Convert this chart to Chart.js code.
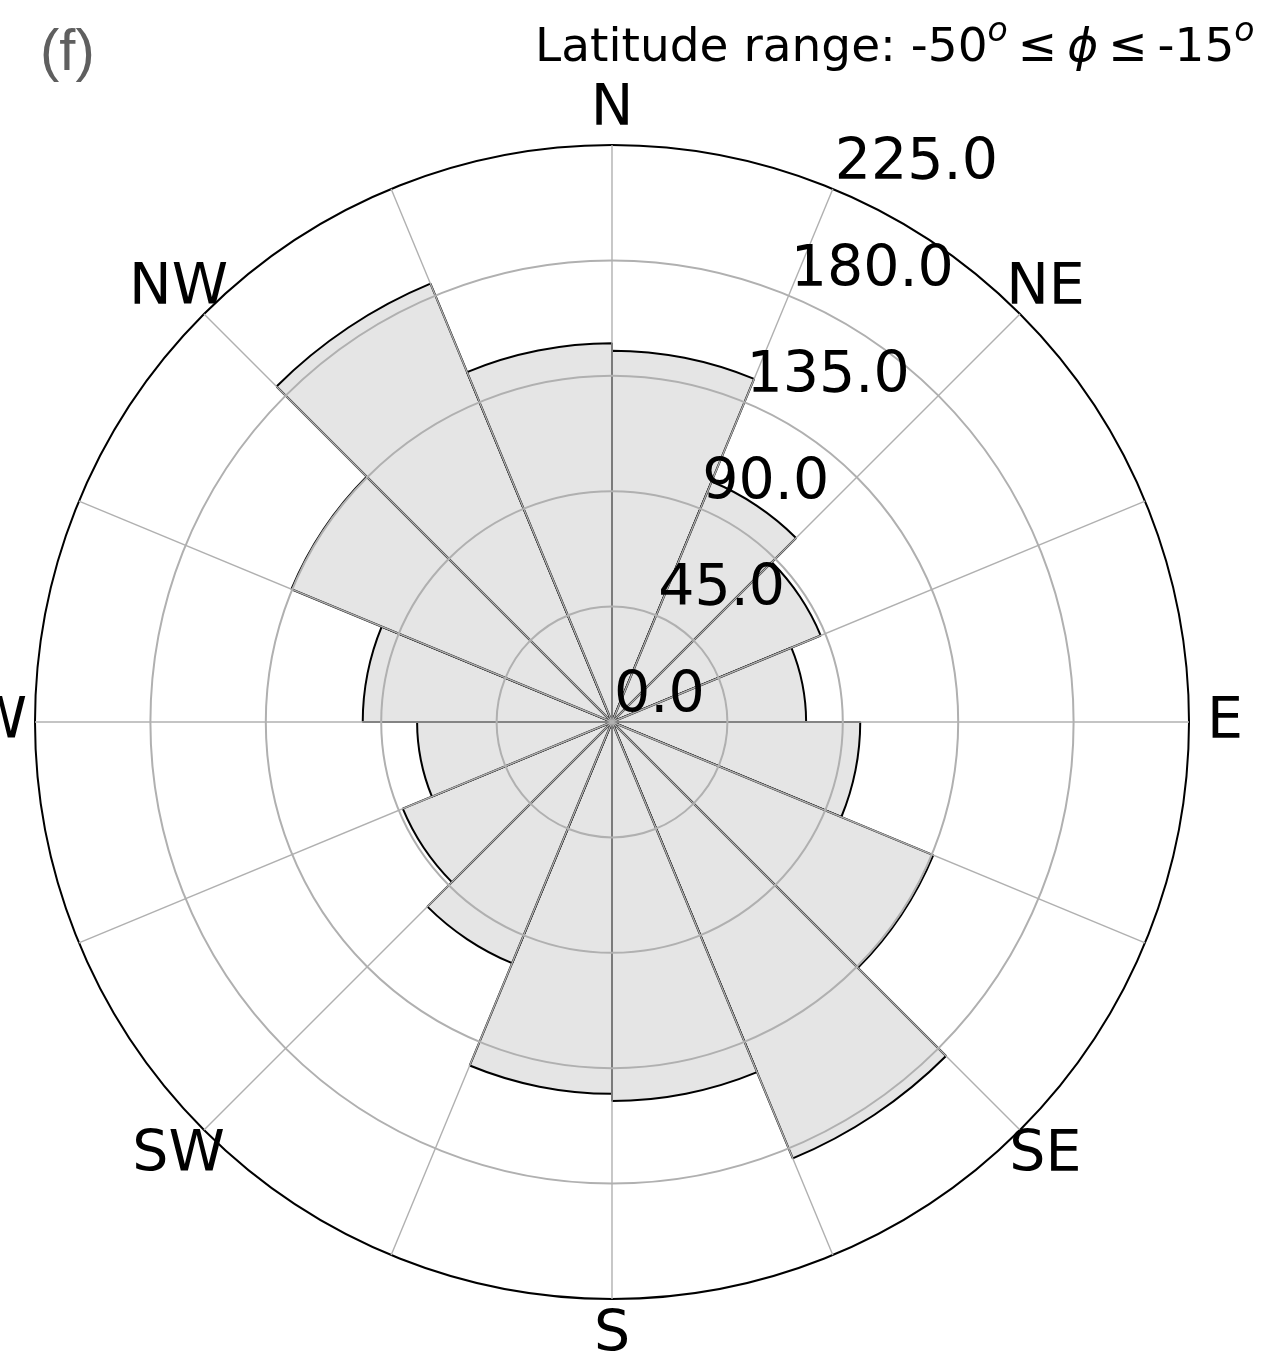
<!DOCTYPE html>
<html>
<head>
<meta charset="utf-8">
<script src="https://cdn.jsdelivr.net/npm/chart.js@4.4.1/dist/chart.umd.min.js"></script>
<style>
  html, body { margin: 0; padding: 0; background: #fff; }
  canvas { display: block; }
</style>
</head>
<body>
<canvas id="myChart" width="1273" height="1369" style="width:1273px;height:1369px"></canvas>
<script>
// sectors, clockwise from north, 22.5 deg each
const sectorLabels = ["N", "NNE", "NE", "ENE", "E", "ESE", "SE", "SSE",
                      "S", "SSW", "SW", "WSW", "W", "WNW", "NW", "NNW"];
const counts = [144.8, 101.5, 88.1, 75.7, 96.8, 135.6, 184.2, 147.8,
                145.0, 101.8, 88.3, 76.0, 97.2, 135.3, 185.0, 147.7];
const compassLabels = ["N", "NE", "E", "SE", "S", "SW", "W", "NW"];
const radialTicks = [0, 45, 90, 135, 180, 225];

// draws compass names, radial tick labels, title and panel letter
const roseText = {
  id: "roseText",
  afterDraw(chart) {
    const ctx = chart.ctx;
    const r = chart.scales.r;
    ctx.save();
    ctx.fillStyle = "#000";

    ctx.font = '57px "DejaVu Sans"';
    ctx.textAlign = "center";
    ctx.textBaseline = "middle";
    compassLabels.forEach((lab, j) => {
      const p = r.getPointPosition(j * 2, r.drawingArea + 36);
      ctx.fillText(lab, p.x, p.y + 1);
    });

    ctx.textAlign = "left";
    ctx.textBaseline = "alphabetic";
    radialTicks.forEach((v) => {
      const p = r.getPointPositionForValue(1, v);
      ctx.fillText(v.toFixed(1), p.x + 2, p.y - 10);
    });

    // title: Latitude range: -50^o <= phi <= -15^o
    const base = '47px "DejaVu Sans"';
    const sup = 'italic 33px "DejaVu Sans"';
    const runs = [
      { t: "Latitude range: -50", f: base, dy: 0 },
      { t: "o", f: sup, dy: -20 },
      { gap: 10 },
      { t: "\u2264", f: base, dy: 0 },
      { gap: 10 },
      { t: "\u03d5", f: 'italic 47px "DejaVu Sans"', dy: 0 },
      { gap: 10 },
      { t: "\u2264", f: base, dy: 0 },
      { gap: 10 },
      { t: "-15", f: base, dy: 0 },
      { t: "o", f: sup, dy: -20 }
    ];
    let x = 535;
    const y = 61;
    runs.forEach((run) => {
      if (run.gap) { x += run.gap; return; }
      ctx.font = run.f;
      ctx.fillText(run.t, x, y + run.dy);
      x += ctx.measureText(run.t).width;
    });

    ctx.fillStyle = "#5f5f5f";
    ctx.font = '58px "Liberation Sans"';
    ctx.fillText("(f)", 40, 70);
    ctx.restore();
  }
};

const ctx = document.getElementById("myChart").getContext("2d");
const myChart = new Chart(ctx, {
  type: "polarArea",
  data: {
    labels: sectorLabels,
    datasets: [
      {
        label: "Count",
        data: counts,
        backgroundColor: "#e5e5e5",
        borderColor: "#000",
        borderWidth: 2
      }
    ]
  },
  options: {
    responsive: false,
    animation: false,
    layout: { padding: { left: 35, right: 84, top: 145, bottom: 70 } },
    plugins: {
      legend: { display: false },
      tooltip: { enabled: false }
    },
    scales: {
      r: {
        min: 0,
        max: 225,
        startAngle: 0,
        ticks: { display: false, stepSize: 45 },
        pointLabels: { display: false },
        grid: {
          z: 1,
          circular: true,
          lineWidth: 2,
          color: (c) => (c.tick && c.tick.value === 225 ? "#000" : "#b0b0b0")
        },
        angleLines: { display: true, color: "#b0b0b0", lineWidth: 1.4 }
      }
    }
  },
  plugins: [roseText]
});
</script>
</body>
</html>
